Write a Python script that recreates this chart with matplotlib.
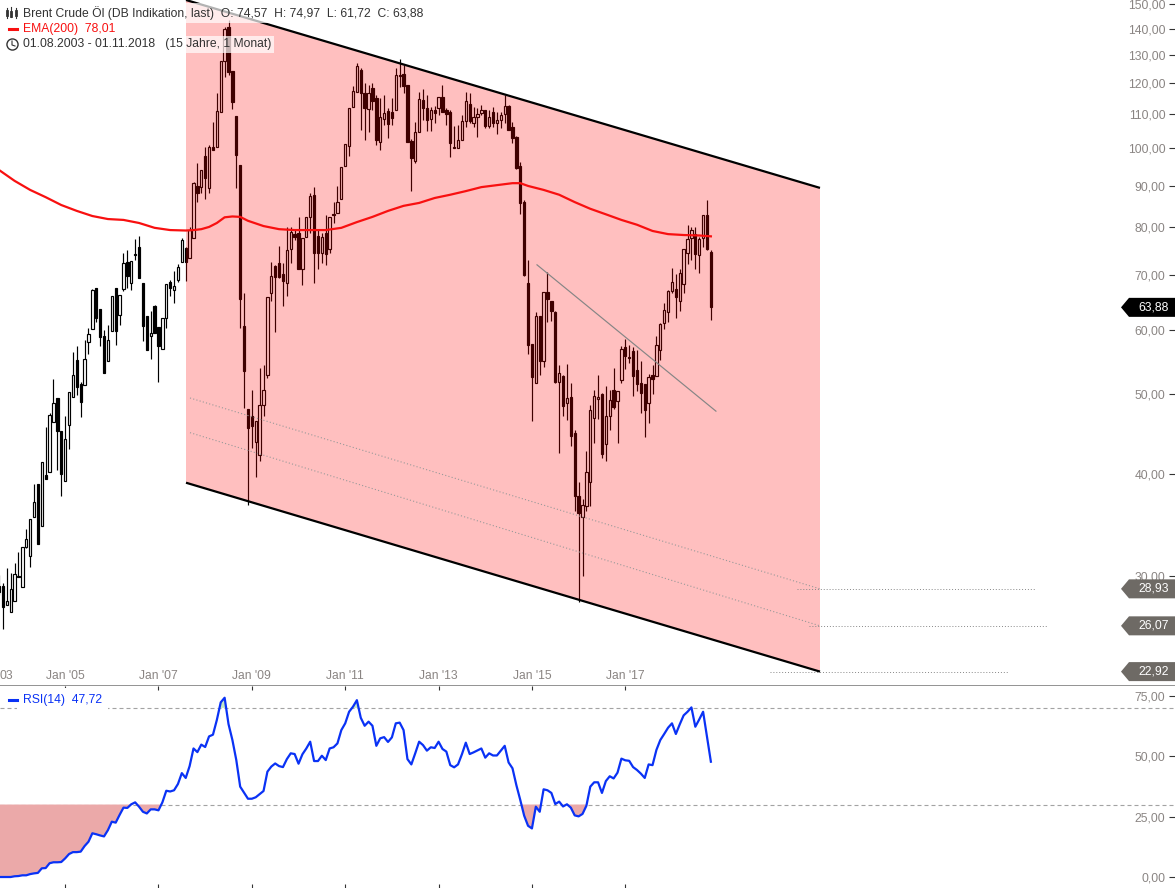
import matplotlib
matplotlib.use("Agg")
import matplotlib.pyplot as plt
import numpy as np
from matplotlib.patches import Polygon
from matplotlib.ticker import FixedLocator, NullLocator, NullFormatter
from matplotlib.transforms import IdentityTransform

plt.rcParams['font.family'] = ['Liberation Sans', 'DejaVu Sans']

# monthly candles, Aug 2003 - Nov 2018
opens = [
    29.2, 29.2, 27.65, 27.1, 27.96, 30.0, 29.09, 32.55, 31.73, 35.4,
    38.87, 34.53, 39.85, 40.2, 46.3, 49.5, 45.1, 39.2, 45.9, 49.6,
    55.1, 51.5, 51.3, 57.9, 60.1, 67.5, 63.6, 59.0, 54.9, 59.8,
    67.5, 62.5, 67.3, 72.6, 68.4, 74.2, 75.7, 68.4, 62.3, 59.0,
    64.1, 60.4, 56.8, 62.0, 68.6, 67.1, 69.0, 72.6, 75.5, 73.4,
    77.7, 89.9, 89.6, 97.8, 89.4, 100.3, 100.3, 110.7, 127.8, 140.6,
    124.2, 109.4, 95.4, 60.6, 48.0, 47.0, 43.7, 42.2, 48.5, 52.8,
    66.5, 71.8, 72.4, 70.2, 68.4, 75.3, 78.5, 78.8, 71.2, 77.9,
    82.4, 87.7, 78.1, 74.4, 78.8, 75.3, 83.0, 83.3, 86.7, 95.1,
    100.6, 112.3, 117.1, 124.6, 116.8, 111.6, 118.4, 115.1, 101.7, 108.5,
    111.0, 110.7, 111.3, 122.9, 123.2, 119.4, 102.0, 96.4, 104.6, 114.5,
    112.0, 108.5, 111.3, 112.0, 115.5, 111.3, 110.7, 100.3, 100.0, 102.3,
    107.9, 113.2, 107.3, 109.1, 110.4, 111.3, 106.4, 110.7, 107.3, 108.2,
    110.0, 112.6, 106.1, 103.2, 95.1, 85.9, 68.4, 57.6, 51.7, 62.3,
    54.9, 66.7, 65.0, 63.0, 51.8, 52.7, 48.8, 49.6, 44.9, 37.6,
    35.4, 36.5, 39.1, 46.8, 49.4, 50.0, 43.5, 47.0, 50.6, 49.1,
    52.1, 57.1, 55.5, 56.5, 53.6, 51.7, 51.5, 48.8, 52.8, 52.7,
    56.7, 61.1, 63.0, 66.9, 67.3, 65.0, 68.2, 74.4, 77.7, 78.5,
    74.0, 77.7, 82.8, 74.57,
]
closes = [
    28.7, 27.49, 27.96, 28.92, 30.17, 29.9, 32.55, 33.3, 35.2, 36.94,
    32.83, 41.35, 39.4, 47.2, 48.8, 45.1, 39.96, 44.1, 50.3, 52.8,
    51.0, 49.0, 55.3, 59.3, 67.1, 62.0, 58.8, 53.1, 58.3, 65.9,
    59.8, 66.1, 72.4, 69.8, 72.8, 74.0, 69.4, 60.6, 56.7, 59.4,
    59.4, 57.3, 62.0, 68.2, 67.5, 67.8, 71.6, 77.2, 72.6, 79.4,
    90.6, 88.1, 94.0, 91.9, 100.3, 99.5, 111.0, 127.8, 139.8, 123.9,
    113.9, 98.1, 65.4, 53.4, 45.5, 45.8, 46.4, 48.5, 50.6, 65.8,
    69.8, 69.6, 69.6, 68.8, 75.1, 79.0, 77.9, 71.2, 77.7, 82.4,
    87.4, 74.4, 74.4, 77.9, 74.2, 82.4, 82.8, 85.9, 94.8, 101.2,
    112.0, 117.4, 126.0, 116.8, 112.0, 116.8, 114.2, 102.3, 109.1, 110.4,
    107.0, 108.8, 122.9, 122.5, 119.1, 101.7, 97.2, 104.6, 114.8, 112.0,
    108.2, 111.3, 110.4, 115.5, 110.7, 110.0, 101.4, 100.0, 102.3, 107.9,
    114.2, 107.9, 109.1, 110.0, 111.3, 106.4, 109.1, 107.3, 108.2, 109.7,
    112.6, 105.2, 102.9, 94.5, 85.7, 70.0, 57.5, 52.5, 62.3, 54.9,
    66.7, 65.4, 63.2, 51.8, 53.1, 48.4, 49.5, 44.5, 37.6, 35.8,
    36.6, 40.2, 47.9, 49.8, 49.6, 42.3, 47.0, 49.2, 48.3, 50.5,
    56.8, 55.7, 55.4, 52.7, 51.5, 50.2, 47.9, 52.5, 52.2, 57.5,
    61.0, 63.4, 66.9, 68.6, 65.8, 70.4, 75.3, 77.4, 79.4, 74.2,
    77.4, 82.8, 75.3, 63.88,
]
highs = [
    30.1, 29.42, 30.68, 30.25, 31.12, 32.1, 32.55, 34.25, 35.2, 38.87,
    38.87, 41.35, 45.6, 47.4, 52.2, 49.5, 45.1, 47.0, 50.3, 56.3,
    57.3, 51.8, 58.3, 60.3, 67.3, 67.5, 63.6, 59.9, 60.8, 65.9,
    67.5, 66.1, 74.4, 75.0, 72.8, 77.4, 78.1, 68.4, 62.3, 63.2,
    64.3, 60.4, 62.0, 68.2, 69.0, 70.8, 72.2, 77.7, 75.7, 80.1,
    90.9, 95.9, 94.0, 100.3, 100.9, 107.6, 116.8, 127.8, 140.6, 143.4,
    124.2, 109.4, 95.4, 66.5, 48.0, 50.6, 46.4, 53.9, 54.3, 65.8,
    72.6, 72.0, 75.9, 72.4, 80.1, 80.1, 79.4, 82.4, 77.7, 82.4,
    88.1, 89.6, 79.4, 78.8, 82.8, 82.4, 85.9, 89.9, 94.8, 101.2,
    112.0, 119.1, 127.0, 125.3, 120.1, 119.4, 120.1, 116.1, 115.1, 116.1,
    112.0, 115.1, 125.3, 128.5, 126.3, 119.4, 102.6, 107.6, 117.1, 118.1,
    116.1, 112.3, 112.6, 115.5, 119.4, 112.0, 111.3, 106.4, 106.7, 109.7,
    117.1, 116.8, 112.3, 112.0, 112.9, 111.3, 111.3, 112.3, 110.7, 110.7,
    116.1, 112.9, 107.6, 103.5, 96.2, 86.4, 73.0, 57.6, 63.0, 62.3,
    66.7, 70.6, 65.0, 63.2, 54.3, 52.8, 54.4, 51.6, 45.2, 39.1,
    37.3, 42.6, 48.5, 50.6, 52.8, 50.2, 51.2, 50.6, 53.9, 50.5,
    57.3, 58.5, 57.5, 57.1, 56.7, 54.9, 51.5, 53.0, 54.3, 58.9,
    61.1, 64.6, 67.1, 71.4, 70.2, 71.2, 75.3, 80.6, 80.0, 80.0,
    77.9, 82.8, 86.4, 74.97,
]
lows = [
    28.44, 25.84, 27.65, 27.11, 27.96, 29.9, 29.09, 32.46, 30.77, 35.4,
    32.83, 34.53, 39.4, 40.2, 46.3, 40.4, 37.6, 39.2, 42.9, 49.6,
    49.9, 46.9, 51.3, 56.0, 60.1, 61.3, 57.3, 53.1, 54.9, 59.8,
    57.5, 60.8, 66.9, 67.5, 67.1, 73.0, 69.4, 58.1, 56.7, 55.2,
    59.4, 51.8, 56.8, 60.3, 65.9, 64.7, 68.6, 72.6, 68.8, 73.4,
    77.7, 85.9, 88.1, 86.7, 88.1, 99.5, 100.3, 110.7, 122.2, 122.9,
    111.6, 89.4, 60.3, 48.1, 36.6, 43.0, 39.6, 41.5, 47.0, 52.4,
    65.0, 59.6, 69.4, 64.1, 65.9, 72.4, 77.2, 71.2, 68.0, 77.9,
    78.8, 68.4, 71.2, 72.4, 72.0, 74.4, 81.0, 83.3, 86.7, 95.1,
    97.8, 112.3, 117.1, 105.2, 102.3, 104.6, 111.3, 100.9, 99.5, 106.7,
    102.9, 106.7, 111.3, 118.8, 116.8, 101.7, 88.6, 95.9, 104.6, 108.2,
    104.9, 104.9, 107.3, 109.7, 110.7, 106.7, 97.5, 100.0, 100.0, 102.3,
    106.1, 107.3, 106.1, 103.2, 109.7, 105.8, 105.8, 106.1, 104.0, 105.8,
    107.3, 105.2, 101.4, 94.3, 83.1, 69.8, 56.0, 46.4, 51.7, 52.8,
    54.0, 61.3, 61.5, 51.7, 42.4, 47.0, 46.5, 43.3, 36.0, 27.9,
    30.0, 36.0, 36.5, 43.6, 46.6, 41.8, 41.5, 45.2, 48.0, 43.6,
    51.7, 53.7, 54.6, 49.8, 50.5, 47.5, 44.4, 46.1, 50.0, 52.7,
    55.1, 60.1, 61.3, 66.5, 62.0, 63.2, 66.5, 72.2, 73.0, 71.2,
    70.4, 75.7, 75.1, 61.72,
]

ema_month = [0, 4, 8, 12, 16, 20, 24, 28, 32, 36, 40, 44, 48, 50, 52, 54, 56, 58, 60, 62,
             64, 68, 72, 76, 84, 88, 92, 96, 100, 104, 108, 112, 116, 120, 124, 128, 132,
             134, 136, 140, 144, 148, 152, 156, 160, 164, 168, 172, 176, 180, 183]
ema_value = [94.03, 91.2, 88.9, 87.1, 85.2, 83.8, 82.6, 81.9, 81.7, 81.0, 79.9, 79.4, 79.3,
             79.4, 79.6, 80.1, 81.0, 82.3, 82.5, 82.4, 81.5, 80.3, 79.6, 79.4, 79.4, 79.9,
             81.2, 82.4, 83.8, 85.0, 85.7, 86.9, 87.7, 88.6, 89.6, 90.1, 90.6, 90.6, 89.9,
             88.9, 87.7, 85.9, 84.3, 83.0, 81.7, 80.6, 79.2, 78.5, 78.3, 78.2, 78.01]

rsi = [
    0.0, 0.0, 0.0, 0.0, 0.3, 0.4, 0.7, 0.7, 1.2, 1.5,
    1.7, 3.6, 3.7, 5.7, 6.1, 6.1, 6.2, 7.7, 9.5, 10.3,
    10.3, 10.5, 12.8, 14.6, 18.1, 17.7, 17.2, 16.8, 19.4, 22.9,
    22.5, 25.7, 28.7, 28.6, 30.1, 30.9, 29.1, 27.0, 26.3, 28.0,
    28.0, 27.6, 30.9, 35.7, 35.4, 35.9, 38.5, 43.0, 41.0, 45.9,
    53.2, 51.7, 54.8, 53.8, 58.2, 58.9, 65.0, 72.3, 74.2, 63.3,
    56.7, 48.4, 37.4, 34.9, 32.4, 32.4, 33.0, 34.3, 35.6, 43.6,
    45.7, 47.0, 45.9, 45.5, 48.8, 51.2, 50.9, 46.9, 50.8, 53.2,
    56.0, 48.0, 48.0, 50.2, 48.4, 53.2, 53.7, 55.3, 60.8, 63.6,
    68.4, 70.5, 73.2, 65.9, 62.6, 64.3, 62.6, 54.3, 57.4, 57.9,
    55.9, 57.8, 63.6, 63.9, 60.8, 48.8, 46.6, 51.2, 56.0, 54.6,
    52.3, 53.7, 53.4, 56.0, 53.0, 51.9, 46.3, 45.4, 46.6, 50.8,
    55.6, 50.9, 51.6, 52.4, 53.2, 49.4, 51.2, 50.3, 50.3, 52.3,
    54.3, 47.4, 45.0, 38.0, 31.9, 25.4, 21.2, 20.1, 29.1, 27.0,
    36.3, 35.9, 34.8, 30.2, 31.2, 29.2, 30.1, 28.7, 25.5, 25.1,
    26.1, 29.5, 37.4, 39.2, 39.2, 34.8, 39.7, 41.7, 40.8, 43.2,
    49.0, 48.3, 48.1, 45.5, 44.3, 42.8, 41.0, 46.6, 46.3, 52.6,
    56.7, 59.2, 61.8, 63.6, 59.2, 63.2, 66.9, 68.4, 70.2, 62.2,
    65.2, 68.4, 58.1, 47.72,
]

price_ticks = [150, 140, 130, 120, 110, 100, 90, 80, 70, 60, 50, 40, 30]
rsi_ticks = [75, 50, 25, 0]
year_months = [17, 41, 65, 89, 113, 137, 161]
year_labels = ["Jan '05", "Jan '07", "Jan '09", "Jan '11", "Jan '13", "Jan '15", "Jan '17"]

# channel + helper lines (month index, price)
channel_month = [48.07, 211.05]
channel_top = [151.7, 89.4]
channel_bottom = [39.0, 22.92]
dotted_month = [49.1, 211.05]
dotted_upper = [49.5, 28.93]
dotted_lower = [44.9, 26.07]
trend_month = [138.3, 184.3]
trend_price = [72.0, 47.7]
# level, month start, month end
levels = [(28.93, 205.2, 266.3), (26.07, 208.2, 269.3), (22.92, 198.2, 259.3)]

W, H = 1175, 888
PANEL_Y = 686
FS = 8.7
TICK_GREY = '#8a8583'
TAG_GREY = '#6e6a65'
EMA_RED = '#f81010'

fig = plt.figure(figsize=(W / 100, H / 100), dpi=100)
ax = fig.add_axes([0, (H - PANEL_Y) / H, 1, PANEL_Y / H])
ax2 = fig.add_axes([0, 0, 1, (H - PANEL_Y) / H])

month_lim = (0.257, 302.31)
months = np.arange(len(opens))
o, h, l, c = map(np.array, (opens, highs, lows, closes))
up = c >= o

# candles first, the channel is a transparent layer above them
lw_px = 0.85
top_body = np.maximum(o, c)
low_body = np.minimum(o, c)
ax.vlines(months, top_body, h, color='black', lw=lw_px, zorder=2)
ax.vlines(months, l, low_body, color='black', lw=lw_px, zorder=2)
ax.bar(months[up], (c - o)[up], bottom=o[up], width=0.6, facecolor='none',
       edgecolor='black', lw=lw_px, zorder=2)
ax.bar(months[~up], (o - c)[~up], bottom=c[~up], width=0.6, facecolor='black',
       edgecolor='black', lw=lw_px, zorder=2)

ax.fill(channel_month + channel_month[::-1], channel_top + channel_bottom[::-1],
        color='red', alpha=0.25, lw=0, zorder=3)
ax.plot(channel_month, channel_top, color='black', lw=1.6, zorder=4, solid_capstyle='butt')
ax.plot(channel_month, channel_bottom, color='black', lw=1.6, zorder=4, solid_capstyle='butt')

ax.plot(ema_month, ema_value, color=EMA_RED, lw=1.6, zorder=5)
ax.plot(trend_month, trend_price, color='#858585', lw=0.85, zorder=5)
for vals in (dotted_upper, dotted_lower):
    ax.plot(dotted_month, vals, color='#999999', lw=0.8, ls=(0, (1, 2)), zorder=4)
for level, m0, m1 in levels:
    ax.plot([m0, m1], [level, level], color='#888888', lw=0.7, ls=(0, (1, 2)), zorder=4)

ax.set_yscale('log')
ax.set_xlim(month_lim)
ax.set_ylim(22.01, 151.7)
ax.yaxis.set_major_locator(FixedLocator(price_ticks))
ax.yaxis.set_minor_locator(NullLocator())
ax.yaxis.set_minor_formatter(NullFormatter())
ax.set_yticklabels([f'{v},00' for v in price_ticks])

ax2.plot(months, rsi, color='#0a32f5', lw=1.6, zorder=4)
rsi_arr = np.array(rsi)
ax2.fill_between(months, rsi_arr, 30, where=rsi_arr < 30, interpolate=True,
                 color='#eba9a9', lw=0, zorder=2)
ax2.fill_between(months, rsi_arr, 70, where=rsi_arr > 70, interpolate=True,
                 color='#c4e8c4', lw=0, zorder=2)
ax2.axhline(70, color='#a3a3a3', lw=0.8, ls=(0, (3.6, 2.7)), zorder=1)
ax2.axhline(30, color='#a3a3a3', lw=0.8, ls=(0, (3.6, 2.7)), zorder=1)
ax2.set_xlim(month_lim)
ax2.set_ylim(-4.55, 79.06)
ax2.set_yticks(rsi_ticks)
ax2.set_yticklabels([f'{v},00' for v in rsi_ticks])

for a in (ax, ax2):
    for s in a.spines.values():
        s.set_visible(False)
    a.tick_params(axis='y', which='major', left=False, labelleft=False, right=True,
                  labelright=True, direction='in', length=4, width=0.8, color='#333333',
                  pad=-7, labelsize=FS, labelcolor=TICK_GREY)
    for t in a.get_yticklabels():
        t.set_ha('right')
        t.set_va('center_baseline')
    a.set_xticks(year_months)
    a.set_xticklabels([])
ax.spines['bottom'].set_visible(True)
ax.spines['bottom'].set_color('#808080')
ax.spines['bottom'].set_linewidth(1.2)
ax.tick_params(axis='x', bottom=False)
ax2.tick_params(axis='x', bottom=True, top=True, direction='in', length=3, width=0.8, color='#333333')

# year labels sit inside the price panel
for m, lab in zip(year_months, year_labels):
    ax.annotate(lab, (m, 0), xycoords=('data', 'axes fraction'), xytext=(0, 7),
                textcoords='offset points', ha='center', va='center', fontsize=FS, color=TICK_GREY)
ax.annotate("03", (0, 0), xycoords='axes fraction', xytext=(0, 7), textcoords='offset points',
            ha='left', va='center', fontsize=FS, color=TICK_GREY)

# price tags on the right edge
fig.canvas.draw()
def price_tag(price, text, color):
    _, py = ax.transData.transform((0, price))
    pts = [(1121, py), (1129, py + 9.5), (W, py + 9.5), (W, py - 9.5), (1129, py - 9.5)]
    fig.add_artist(Polygon(pts, closed=True, facecolor=color, edgecolor='none',
                           transform=IdentityTransform(), zorder=6))
    fig.text(1169 / W, py / H, text, color='white', fontsize=FS, ha='right', va='center', zorder=7)

price_tag(63.88, '63,88', 'black')
price_tag(28.93, '28,93', TAG_GREY)
price_tag(26.07, '26,07', TAG_GREY)
price_tag(22.92, '22,92', TAG_GREY)

# legend text, top left
band = dict(facecolor='white', alpha=0.7, edgecolor='none', pad=2.0)
def label(x, y, s, color='#333333', bbox=None):
    fig.text(x / W, 1 - y / H, s, fontsize=FS, color=color, ha='left', va='center',
             zorder=8, bbox=bbox)

label(23, 13, 'Brent Crude Öl (DB Indikation, last)  O: 74,57  H: 74,97  L: 61,72  C: 63,88', bbox=band)
label(23, 29, 'EMA(200)  78,01', color=EMA_RED)
label(23, 44.5, '01.08.2003 - 01.11.2018   (15 Jahre, 1 Monat)', bbox=band)
label(23, 700, 'RSI(14)  47,72', color='#0a32f5',
      bbox=dict(facecolor='white', edgecolor='none', pad=4.5))

def dash(y, color):
    fig.add_artist(plt.Line2D([9 / W, 17 / W], [1 - y / H] * 2, color=color, lw=2.2, zorder=9))

dash(29, EMA_RED)
dash(700, '#0a32f5')

# little icons: candles and clock
for x0, y0, y1, b0, b1 in [(7, 8, 18, 11, 15), (11.5, 7, 17, 12, 16), (16, 8, 18, 11, 15)]:
    fig.add_artist(plt.Line2D([x0 / W] * 2, [1 - y0 / H, 1 - y1 / H], color='#333333', lw=0.8, zorder=9))
    fig.add_artist(plt.Line2D([x0 / W] * 2, [1 - b0 / H, 1 - b1 / H], color='#333333', lw=2.0, zorder=9))
fig.add_artist(plt.Line2D([12 / W], [1 - 44.5 / H], marker='o', ms=8, mfc='none', mec='#333333', mew=1.0, zorder=9))
fig.add_artist(plt.Line2D([12 / W, 12 / W, 15 / W], [1 - 41 / H, 1 - 45 / H, 1 - 46 / H], color='#333333', lw=0.8, zorder=9))

fig.savefig('out.png', dpi=100)
